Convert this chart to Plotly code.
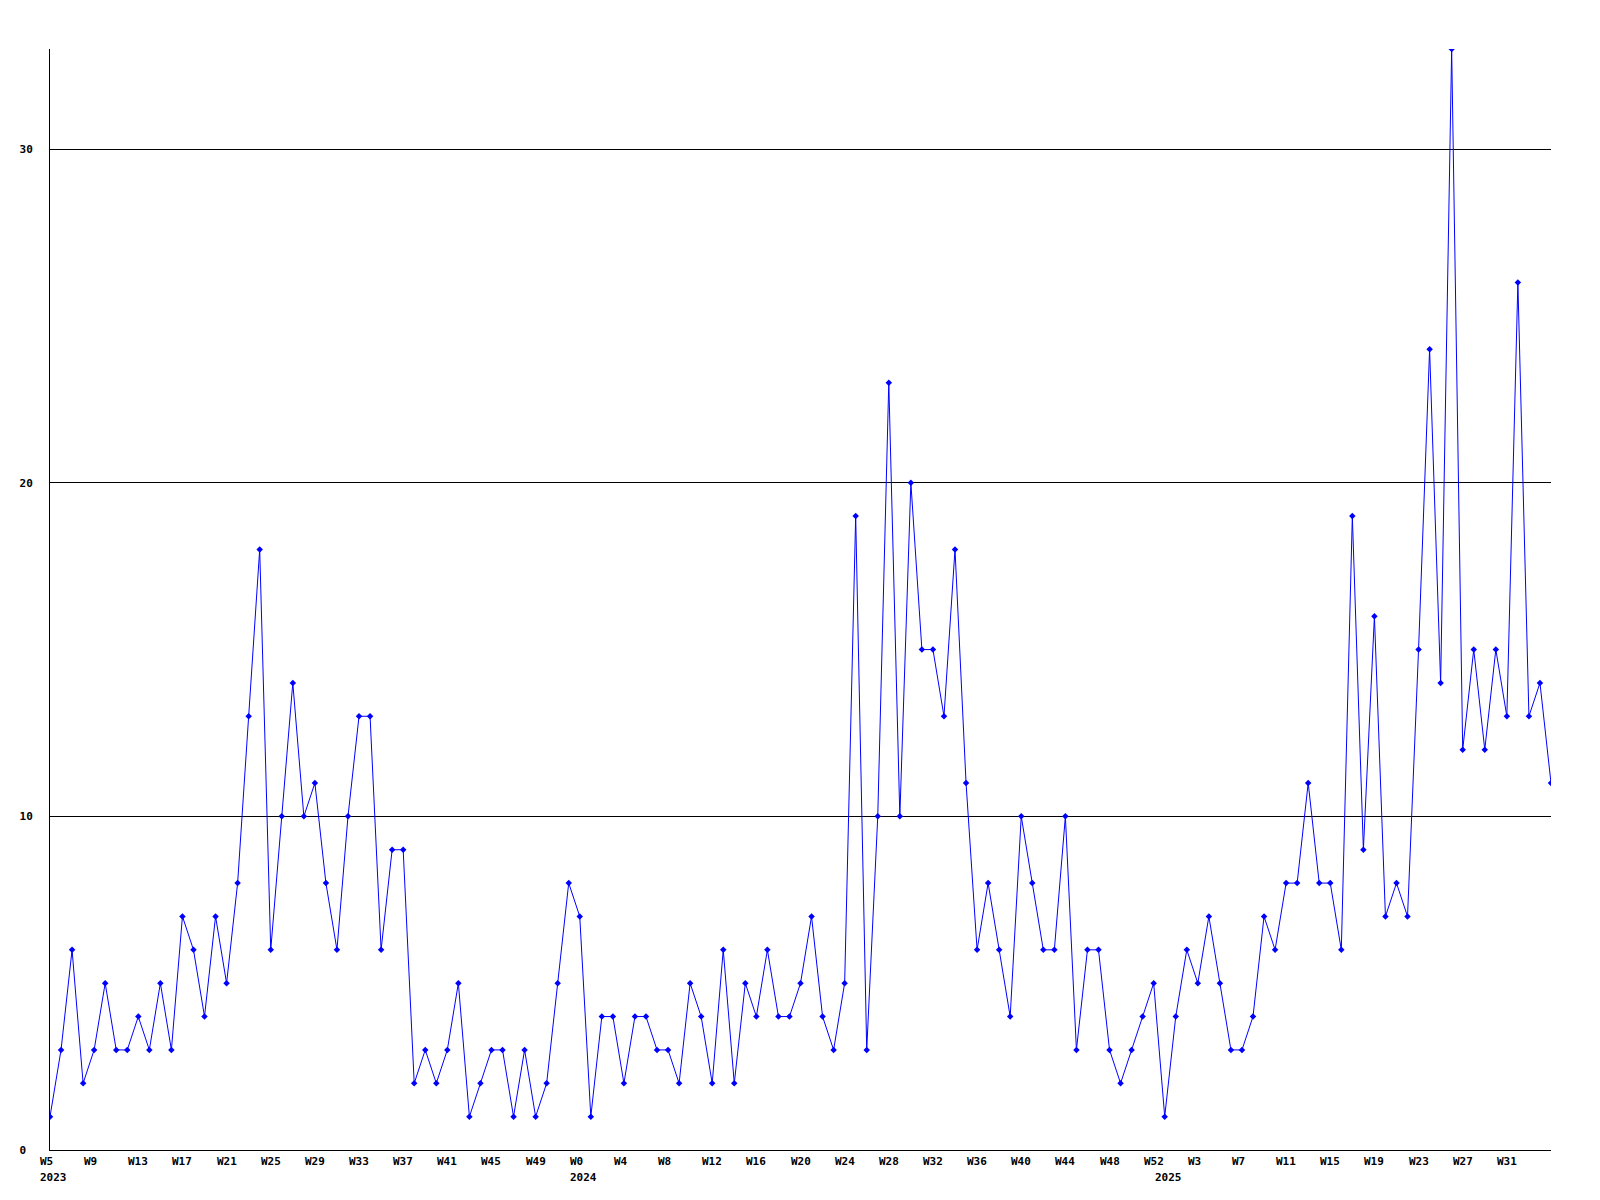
import plotly.graph_objects as go

# ---- data (weekly counts) ----
weeks_2023 = list(range(5, 53))
weeks_2024 = list(range(0, 53))
weeks_2025 = list(range(0, 36))

counts_2023 = [1, 3, 6, 2, 3, 5, 3, 3, 4, 3, 5, 3, 7, 6, 4, 7, 5, 8, 13, 18,
               6, 10, 14, 10, 11, 8, 6, 10, 13, 13, 6, 9, 9, 2, 3, 2, 3, 5, 1, 2,
               3, 3, 1, 3, 1, 2, 5, 8]
counts_2024 = [7, 1, 4, 4, 2, 4, 4, 3, 3, 2, 5, 4, 2, 6, 2, 5, 4, 6, 4, 4,
               5, 7, 4, 3, 5, 19, 3, 10, 23, 10, 20, 15, 15, 13, 18, 11, 6, 8, 6, 4,
               10, 8, 6, 6, 10, 3, 6, 6, 3, 2, 3, 4, 5]
counts_2025 = [1, 4, 6, 5, 7, 5, 3, 3, 4, 7, 6, 8, 8, 11, 8, 8, 6, 19, 9, 16,
               7, 8, 7, 15, 24, 14, 33, 12, 15, 12, 15, 13, 26, 13, 14, 11]

y_tick_vals = [0, 10, 20, 30]
y_tick_text = ["0\u00a0", "10", "20", "30"]
year_labels = ["2023", "2024", "2025"]

# ---- build series ----
labels = ([f"2023-W{w}" for w in weeks_2023] +
          [f"2024-W{w}" for w in weeks_2024] +
          [f"2025-W{w}" for w in weeks_2025])
values = counts_2023 + counts_2024 + counts_2025
x = list(range(len(values)))

FONT = "DejaVu Sans Mono"
fig = go.Figure()
fig.add_trace(go.Scatter(
    x=x, y=values, mode="lines+markers",
    line=dict(color="#0000ff", width=1),
    marker=dict(symbol="diamond", size=5, color="#0000ff"),
    text=labels, hoverinfo="text+y", showlegend=False,
))

annotations = []
# week tick labels every 4 points (last point unlabeled), left aligned before the point
for i in range(0, len(values) - 1, 4):
    wk = labels[i].split("-")[1]
    annotations.append(dict(
        x=i, y=0, xref="x", yref="paper", text=f"<b>{wk}</b>",
        showarrow=False, xanchor="left", yanchor="top", xshift=-11, yshift=-4,
        borderpad=0, font=dict(family=FONT, size=11, color="black")))
# year labels at the first week of each year
first_idx = [0, len(counts_2023), len(counts_2023) + len(counts_2024)]
for yl, i in zip(year_labels, first_idx):
    annotations.append(dict(
        x=i, y=0, xref="x", yref="paper", text=f"<b>{yl}</b>",
        showarrow=False, xanchor="left", yanchor="top", xshift=-11, yshift=-20,
        borderpad=0, font=dict(family=FONT, size=11, color="black")))

fig.update_layout(
    width=1600, height=1200,
    margin=dict(l=50, r=49, t=49, b=50),
    paper_bgcolor="white", plot_bgcolor="white",
    annotations=annotations,
    xaxis=dict(range=[0, len(values) - 1], showgrid=False, zeroline=False,
               showticklabels=False, ticks="", showline=True,
               linecolor="black", linewidth=1),
    yaxis=dict(range=[0, 33], tickvals=y_tick_vals, ticktext=y_tick_text,
               showgrid=True, gridcolor="black", gridwidth=1, zeroline=False,
               showline=True, linecolor="black", linewidth=1, ticks="",
               ticklabelstandoff=14,
               tickfont=dict(family=FONT, size=11, color="black", weight="bold")),
)

fig.write_html("out.html", config={"displayModeBar": False},
               post_script="document.body.style.margin='0';")
